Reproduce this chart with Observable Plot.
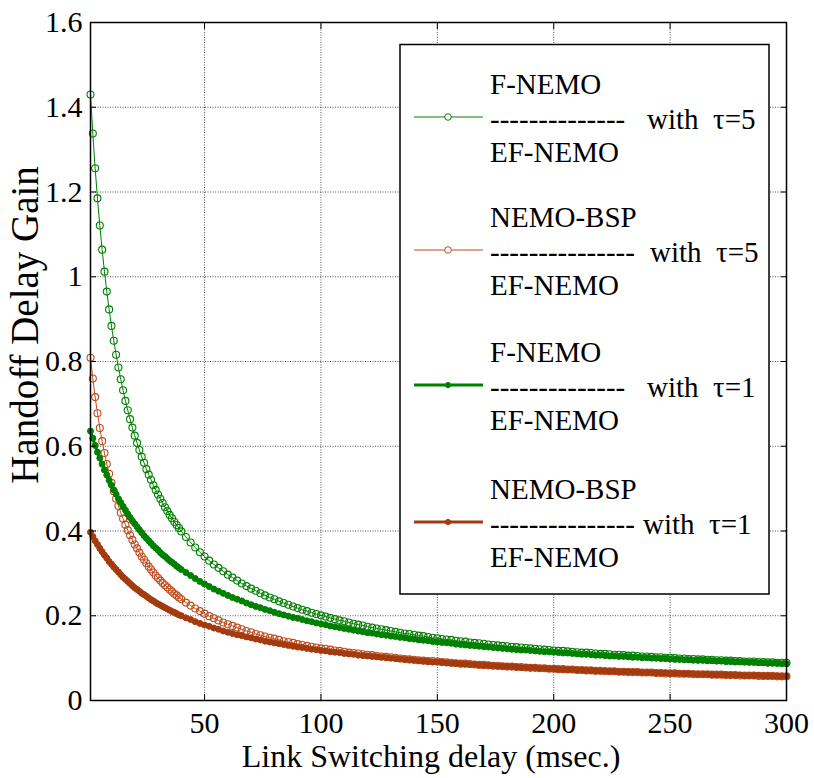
<!DOCTYPE html>
<html><head><meta charset="utf-8">
<script src="https://cdn.jsdelivr.net/npm/d3@7"></script>
<script src="https://cdn.jsdelivr.net/npm/@observablehq/plot@0.6"></script>
<style>
body{margin:0;background:#fff;}
#wrap{width:814px;height:778px;}
svg text.lgt{font-family:'Liberation Serif','Times New Roman',serif !important;font-size:29px !important;}
</style></head><body><div id="wrap"></div>
<script>
// Link switching delay (msec.)
const xs = [1,2,3,4,5,6,7,8,9,10,11,12,13,14,15,16,17,18,19,20,21,22,23,24,25,26,27,28,29,30,31,32,33,34,35,36,37,38,39,40,
42,44,46,48,50,52,54,56,58,60,62,64,66,68,70,72,74,76,78,80,82,84,86,88,90,92,94,96,98,100,
102,104,106,108,110,112,114,116,118,120,122,124,126,128,130,132,134,136,138,140,142,144,146,148,150,152,154,156,158,160,
162,164,166,168,170,172,174,176,178,180,182,184,186,188,190,192,194,196,198,200,202,204,206,208,210,212,214,216,218,220,
222,224,226,228,230,232,234,236,238,240,242,244,246,248,250,252,254,256,258,260,262,264,266,268,270,272,274,276,278,280,
282,284,286,288,290,292,294,296,298,300];

// F-NEMO / EF-NEMO, tau=5
const fnemoTau5 = [1.430,1.338,1.256,1.185,1.121,1.064,1.012,0.965,0.923,0.884,0.849,0.816,0.786,0.758,0.732,0.707,0.685,0.664,0.644,0.625,0.608,0.591,0.575,0.561,0.546,0.533,0.521,0.508,0.497,0.486,0.476,0.466,0.456,0.447,0.438,0.430,0.422,0.414,0.407,0.399,
0.386,0.373,0.361,0.350,0.340,0.330,0.321,0.313,0.305,0.297,0.290,0.283,0.276,0.270,0.264,0.259,0.253,0.248,0.243,0.239,0.234,0.230,0.226,0.222,0.218,0.214,0.211,0.207,0.204,0.201,
0.198,0.195,0.192,0.189,0.187,0.184,0.181,0.179,0.177,0.174,0.172,0.170,0.168,0.166,0.164,0.162,0.160,0.158,0.157,0.155,0.153,0.152,0.150,0.148,0.147,0.145,0.144,0.143,0.141,0.140,
0.139,0.137,0.136,0.135,0.134,0.132,0.131,0.130,0.129,0.128,0.127,0.126,0.125,0.124,0.123,0.122,0.121,0.120,0.119,0.118,0.117,0.117,0.116,0.115,0.114,0.113,0.113,0.112,0.111,0.110,
0.110,0.109,0.108,0.108,0.107,0.106,0.106,0.105,0.104,0.104,0.103,0.102,0.102,0.101,0.101,0.100,0.099,0.099,0.098,0.098,0.097,0.097,0.096,0.096,0.095,0.095,0.094,0.094,0.093,0.093,
0.092,0.092,0.092,0.091,0.091,0.090,0.090,0.089,0.089,0.089];

// NEMO-BSP / EF-NEMO, tau=5
const bspTau5 = [0.809,0.760,0.716,0.678,0.643,0.612,0.584,0.558,0.535,0.514,0.494,0.476,0.459,0.443,0.429,0.415,0.402,0.390,0.379,0.368,0.359,0.349,0.340,0.332,0.324,0.316,0.309,0.302,0.295,0.289,0.283,0.277,0.272,0.267,0.262,0.257,0.252,0.248,0.243,0.239,
0.231,0.224,0.217,0.211,0.205,0.199,0.194,0.189,0.184,0.180,0.176,0.172,0.168,0.164,0.161,0.157,0.154,0.151,0.148,0.146,0.143,0.140,0.138,0.136,0.133,0.131,0.129,0.127,0.125,0.123,
0.122,0.120,0.118,0.117,0.115,0.113,0.112,0.111,0.109,0.108,0.107,0.105,0.104,0.103,0.102,0.101,0.099,0.098,0.097,0.096,0.095,0.094,0.093,0.093,0.092,0.091,0.090,0.089,0.088,0.087,
0.087,0.086,0.085,0.084,0.084,0.083,0.082,0.082,0.081,0.080,0.080,0.079,0.079,0.078,0.077,0.077,0.076,0.076,0.075,0.075,0.074,0.074,0.073,0.073,0.072,0.072,0.071,0.071,0.070,0.070,
0.069,0.069,0.069,0.068,0.068,0.067,0.067,0.067,0.066,0.066,0.066,0.065,0.065,0.064,0.064,0.064,0.063,0.063,0.063,0.062,0.062,0.062,0.062,0.061,0.061,0.061,0.060,0.060,0.060,0.059,
0.059,0.059,0.059,0.058,0.058,0.058,0.058,0.057,0.057,0.057];

// F-NEMO / EF-NEMO, tau=1
const fnemoTau1 = [0.636,0.619,0.602,0.586,0.572,0.558,0.544,0.532,0.520,0.508,0.497,0.487,0.476,0.467,0.458,0.449,0.440,0.432,0.424,0.417,0.410,0.403,0.396,0.389,0.383,0.377,0.371,0.365,0.360,0.355,0.349,0.344,0.340,0.335,0.330,0.326,0.322,0.317,0.313,0.309,
0.302,0.295,0.288,0.281,0.275,0.269,0.263,0.258,0.253,0.248,0.243,0.239,0.235,0.230,0.226,0.222,0.219,0.215,0.212,0.208,0.205,0.202,0.199,0.196,0.194,0.191,0.188,0.186,0.183,0.181,
0.179,0.176,0.174,0.172,0.170,0.168,0.166,0.164,0.162,0.160,0.159,0.157,0.155,0.154,0.152,0.151,0.149,0.148,0.146,0.145,0.143,0.142,0.141,0.139,0.138,0.137,0.136,0.135,0.133,0.132,
0.131,0.130,0.129,0.128,0.127,0.126,0.125,0.124,0.123,0.122,0.121,0.120,0.119,0.119,0.118,0.117,0.116,0.115,0.115,0.114,0.113,0.112,0.112,0.111,0.110,0.109,0.109,0.108,0.107,0.107,
0.106,0.105,0.105,0.104,0.104,0.103,0.102,0.102,0.101,0.101,0.100,0.100,0.099,0.099,0.098,0.097,0.097,0.096,0.096,0.095,0.095,0.095,0.094,0.094,0.093,0.093,0.092,0.092,0.091,0.091,
0.091,0.090,0.090,0.089,0.089,0.088,0.088,0.088,0.087,0.087];

// NEMO-BSP / EF-NEMO, tau=1
const bspTau1 = [0.397,0.387,0.377,0.368,0.359,0.351,0.343,0.336,0.328,0.322,0.315,0.309,0.303,0.297,0.291,0.286,0.281,0.276,0.271,0.266,0.262,0.258,0.253,0.250,0.246,0.242,0.238,0.235,0.231,0.228,0.225,0.222,0.219,0.216,0.213,0.210,0.208,0.205,0.202,0.200,
0.195,0.191,0.186,0.182,0.178,0.175,0.171,0.168,0.164,0.161,0.158,0.155,0.153,0.150,0.148,0.145,0.143,0.140,0.138,0.136,0.134,0.132,0.130,0.128,0.126,0.125,0.123,0.121,0.120,0.118,
0.117,0.115,0.114,0.113,0.111,0.110,0.109,0.107,0.106,0.105,0.104,0.103,0.102,0.101,0.100,0.099,0.098,0.097,0.096,0.095,0.094,0.093,0.092,0.091,0.091,0.090,0.089,0.088,0.088,0.087,
0.086,0.085,0.085,0.084,0.083,0.083,0.082,0.081,0.081,0.080,0.080,0.079,0.078,0.078,0.077,0.077,0.076,0.076,0.075,0.075,0.074,0.074,0.073,0.073,0.072,0.072,0.071,0.071,0.070,0.070,
0.070,0.069,0.069,0.068,0.068,0.068,0.067,0.067,0.066,0.066,0.066,0.065,0.065,0.065,0.064,0.064,0.064,0.063,0.063,0.063,0.062,0.062,0.062,0.061,0.061,0.061,0.061,0.060,0.060,0.060,
0.059,0.059,0.059,0.059,0.058,0.058,0.058,0.058,0.057,0.057];

const xTicks = [50,100,150,200,250,300];
const yTicks = [0,0.2,0.4,0.6,0.8,1,1.2,1.4,1.6];
const xTitle = "Link Switching delay (msec.)";
const yTitle = "Handoff Delay Gain";

const legendTop = ["F-NEMO","NEMO-BSP","F-NEMO","NEMO-BSP"];
const legendDashes = ["--------------","---------------","--------------","---------------"];
const legendBottom = ["EF-NEMO","EF-NEMO","EF-NEMO","EF-NEMO"];
const legendTau = ["with  \u03c4=5","with  \u03c4=5","with  \u03c4=1","with  \u03c4=1"];

const GREEN = "#008000", BROWN5 = "#c04c1c", BROWN1 = "#a33b0e";
const series = [
  {ys: fnemoTau5, color: GREEN,  open: true},
  {ys: bspTau5,   color: BROWN5, open: true},
  {ys: fnemoTau1, color: GREEN,  open: false},
  {ys: bspTau1,   color: BROWN1, open: false}
];

const FONT = "'Liberation Serif', 'Times New Roman', serif";
const fmt = d => String(+d.toFixed(1));

const marks = [
  Plot.gridX(xTicks, {stroke: "#555", strokeOpacity: 1, strokeWidth: 1, strokeDasharray: "1,1.5"}),
  Plot.gridY(yTicks, {stroke: "#555", strokeOpacity: 1, strokeWidth: 1, strokeDasharray: "1,1.5"})
];
for (const s of series) {
  const rows = xs.map((x, i) => ({x, y: s.ys[i]}));
  marks.push(Plot.line(rows, {x: "x", y: "y", stroke: s.color, strokeWidth: s.open ? 1 : 3}));
  marks.push(s.open
    ? Plot.dot(rows, {x: "x", y: "y", r: 3.5, stroke: s.color, fill: "none", strokeWidth: 1.1})
    : Plot.dot(rows, {x: "x", y: "y", r: 3, stroke: s.color, fill: s.color, strokeWidth: 1}));
}
marks.push(
  Plot.axisX({anchor: "bottom", ticks: xTicks, tickSize: 0, tickPadding: 11, tickFormat: fmt, label: null, fontSize: 30}),
  Plot.axisX({anchor: "bottom", ticks: xTicks, tickSize: -6, fill: "none", stroke: "black", label: null}),
  Plot.axisX({anchor: "top", ticks: xTicks, tickSize: -6, fill: "none", stroke: "black", label: null}),
  Plot.axisY({anchor: "left", ticks: yTicks, tickSize: 0, tickPadding: 8, tickFormat: fmt, label: null, fontSize: 30}),
  Plot.axisY({anchor: "left", ticks: yTicks, tickSize: -6, fill: "none", stroke: "black", label: null}),
  Plot.axisY({anchor: "right", ticks: yTicks, tickSize: -6, fill: "none", stroke: "black", label: null}),
  Plot.frame({stroke: "black", strokeWidth: 1.5})
);

const chart = Plot.plot({
  width: 814, height: 778,
  marginLeft: 90, marginRight: 28, marginTop: 22, marginBottom: 78,
  style: {fontFamily: FONT, fontSize: "30px", background: "white", color: "black"},
  x: {domain: [1, 300]},
  y: {domain: [0, 1.6]},
  marks
});
document.getElementById("wrap").appendChild(chart);

const svg = d3.select(chart);
// Axis titles
svg.append("text").attr("x", 431).attr("y", 767)
  .style("font-family", FONT).style("font-size", "32px").attr("text-anchor", "middle").attr("fill", "black")
  .text(xTitle);
svg.append("text").attr("transform", "translate(38,325) rotate(-90)")
  .style("font-family", FONT).style("font-size", "39px").attr("text-anchor", "middle").attr("fill", "black")
  .text(yTitle);

// Legend box (layout in pixels)
const lg = svg.append("g");
lg.append("rect").attr("x", 400).attr("y", 44.5).attr("width", 369).attr("height", 549.5)
  .attr("fill", "white").attr("stroke", "black").attr("stroke-width", 1.5);
const lineY = [117, 250, 385, 522];
const withX = [647, 650, 647, 643];
series.forEach((s, i) => {
  const y = lineY[i];
  lg.append("line").attr("x1", 414).attr("x2", 483).attr("y1", y).attr("y2", y)
    .attr("stroke", s.color).attr("stroke-width", s.open ? 1 : 3);
  if (s.open) {
    lg.append("circle").attr("cx", 448).attr("cy", y).attr("r", 3.3).attr("fill", "white").attr("stroke", s.color);
  } else {
    lg.append("circle").attr("cx", 448).attr("cy", y).attr("r", 2.6).attr("fill", s.color).attr("stroke", s.color);
  }
  const t = (x, yy, str) => lg.append("text").attr("class", "lgt").attr("x", x).attr("y", yy)
    .attr("fill", "black").attr("text-anchor", "start")
    .style("font-family", FONT).style("font-size", "29px").style("white-space", "pre").text(str);
  t(490, y - 23, legendTop[i]);
  t(490, y + 12, legendDashes[i]);
  t(withX[i], y + 12, legendTau[i]);
  t(490, y + 45, legendBottom[i]);
});
</script>
</body></html>
